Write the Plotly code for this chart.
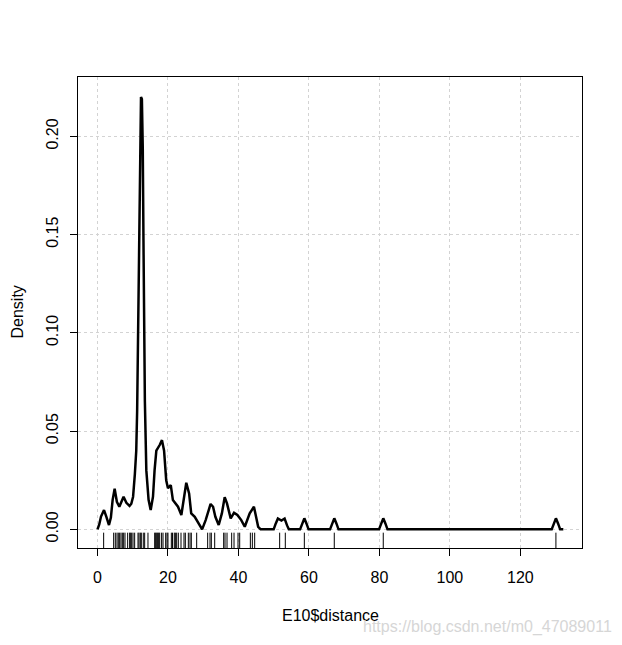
import plotly.graph_objects as go

# density curve
dens_x = [0.0, 0.5, 1.0, 1.85, 2.5, 3.26, 3.8, 4.3, 4.87, 5.5, 6.2, 6.8, 7.4, 8.2, 9.1, 9.6,
          10.1, 10.6, 11.0, 11.25, 11.5, 11.8, 12.05, 12.35, 12.6, 12.85, 13.05, 13.25, 13.45,
          13.86, 14.5, 15.1, 15.75, 16.2, 16.7, 17.65, 18.3, 18.9, 19.5, 20.0, 20.8, 21.4, 22.2,
          22.85, 23.8, 24.55, 25.2, 26.0, 26.6, 27.6, 28.5, 29.7, 30.7, 32.1, 32.8, 33.45, 34.4,
          35.3, 36.1, 36.75, 37.8, 38.75, 39.7, 40.8, 41.8, 43.2, 44.4, 45.6, 46.3,
          50.0, 50.6, 51.2, 52.2, 53.1, 53.8, 54.3,
          57.5, 58.1, 58.7, 59.3, 59.9,
          66.0, 66.6, 67.2, 67.8, 68.4,
          79.9, 80.5, 81.1, 81.7, 82.3,
          128.9, 129.5, 130.1, 130.7, 131.3, 132.2]
dens_y = [0.0, 0.0025, 0.0065, 0.0098, 0.0065, 0.0022, 0.006, 0.015, 0.0207, 0.014, 0.0115, 0.014,
          0.0166, 0.0135, 0.0119, 0.013, 0.0166, 0.028, 0.040, 0.060, 0.100, 0.147, 0.194, 0.220,
          0.219, 0.194, 0.147, 0.105, 0.065, 0.030, 0.015, 0.0098, 0.0166, 0.030, 0.040, 0.0429,
          0.0454, 0.040, 0.025, 0.0209, 0.0225, 0.0149, 0.0132, 0.0115, 0.0073, 0.0166, 0.0237,
          0.0183, 0.0081, 0.0064, 0.0039, 0.0, 0.0047, 0.0129, 0.0115, 0.0064, 0.0022, 0.0081,
          0.0163, 0.0132, 0.0056, 0.0084, 0.0073, 0.0047, 0.0013, 0.0081, 0.0115, 0.0013, 0.0,
          0.0, 0.003, 0.0055, 0.0045, 0.0055, 0.002, 0.0,
          0.0, 0.003, 0.0056, 0.003, 0.0,
          0.0, 0.003, 0.0056, 0.003, 0.0,
          0.0, 0.003, 0.0056, 0.003, 0.0,
          0.0, 0.003, 0.0056, 0.003, 0.0, 0.0]

# rug (observations)
rug_x = [1.75, 4.59, 5.06, 5.54, 5.91, 6.29, 6.67, 7.05, 7.43, 7.81, 8.56, 9.13, 9.32, 9.70,
         10.08, 10.55, 11.5, 11.78, 12.16, 12.44, 13.0, 13.39, 14.33, 16.23, 16.51, 16.8,
         17.08, 17.36, 17.65, 18.2, 18.6, 19.35, 19.73, 20.0, 20.96, 21.3, 21.8, 22.1, 22.47,
         22.94, 23.7, 24.55, 24.93, 25.78, 26.26, 26.63, 28.15, 31.27, 31.93, 32.31, 33.26,
         35.81, 36.19, 36.76, 38.08, 38.75, 39.88, 40.36, 43.38, 43.95, 44.61, 51.7, 53.3,
         58.7, 67.2, 81.1, 130.1]

x_ticks = [0, 20, 40, 60, 80, 100, 120]
y_ticks = [0.00, 0.05, 0.10, 0.15, 0.20]
y_tick_labels = ["0.00", "0.05", "0.10", "0.15", "0.20"]

x_range = [-5.53, 137.5]
y_range = [-0.0095, 0.2302]
rug_top = -0.0017

rx, ry = [], []
for v in rug_x:
    rx += [v, v, None]
    ry += [y_range[0], rug_top, None]

fig = go.Figure()
fig.add_trace(go.Scatter(x=dens_x, y=dens_y, mode="lines",
                         line=dict(color="black", width=2.5), showlegend=False,
                         hoverinfo="skip"))
fig.add_trace(go.Scatter(x=rx, y=ry, mode="lines", line=dict(color="black", width=1),
                         showlegend=False, hoverinfo="skip"))

font = dict(family="Liberation Sans, Arial, sans-serif", size=16, color="black")
axis_common = dict(showline=True, linecolor="black", linewidth=1, mirror=True,
                   ticks="outside", ticklen=7, tickcolor="black", tickwidth=1,
                   showgrid=True, gridcolor="#d3d3d3", griddash="dot", gridwidth=1,
                   zeroline=False, tickfont=font)
fig.update_xaxes(range=x_range, tickvals=x_ticks, ticklabelstandoff=8, **axis_common)
fig.update_yaxes(range=y_range, tickvals=y_ticks, ticktext=y_tick_labels, tickangle=-90,
                 ticklabelstandoff=6, **axis_common)

fig.update_layout(
    width=622, height=645,
    margin=dict(l=70, r=48, t=69, b=105),
    plot_bgcolor="white", paper_bgcolor="white",
    font=font,
    annotations=[
        dict(text="E10$distance", xref="paper", yref="paper", x=0.5, y=0,
             xanchor="center", yanchor="middle", yshift=-67, showarrow=False, font=font),
        dict(text="Density", xref="paper", yref="paper", x=0, y=0.5,
             xanchor="center", yanchor="middle", xshift=-61, textangle=-90,
             showarrow=False, font=font),
        dict(text="https://blog.csdn.net/m0_47089011", xref="paper", yref="paper",
             x=1, y=0, xanchor="right", yanchor="middle", xshift=32, yshift=-79,
             showarrow=False,
             font=dict(family="Liberation Sans, Arial, sans-serif", size=16, color="#d6d6d6")),
    ],
)

fig.write_html("out.html")
